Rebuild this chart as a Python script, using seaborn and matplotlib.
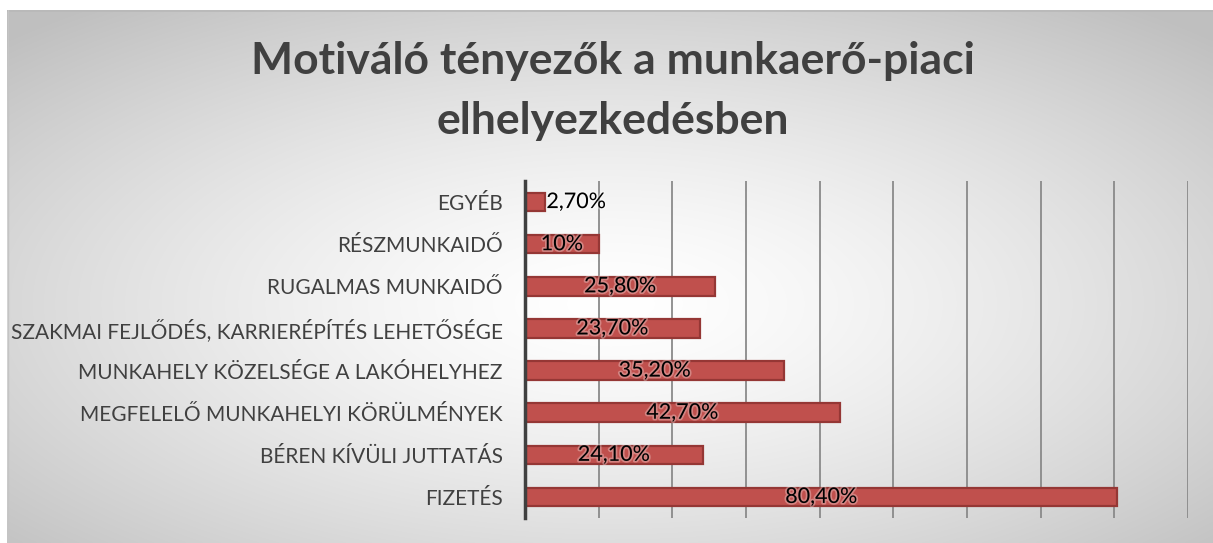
import numpy as np
import matplotlib
matplotlib.use("Agg")
import matplotlib.pyplot as plt
import matplotlib.patheffects as pe
import seaborn as sns

# Chart data (top to bottom)
categories = [
    "EGYÉB",
    "RÉSZMUNKAIDŐ",
    "RUGALMAS MUNKAIDŐ",
    "SZAKMAI FEJLŐDÉS, KARRIERÉPÍTÉS LEHETŐSÉGE",
    "MUNKAHELY KÖZELSÉGE A LAKÓHELYHEZ",
    "MEGFELELŐ MUNKAHELYI KÖRÜLMÉNYEK",
    "BÉREN KÍVÜLI JUTTATÁS",
    "FIZETÉS",
]
values = [2.7, 10.0, 25.8, 23.7, 35.2, 42.7, 24.1, 80.4]
value_labels = ["2,70%", "10%", "25,80%", "23,70%", "35,20%", "42,70%", "24,10%", "80,40%"]

title = "Motiváló tényezők a munkaerő-piaci\nelhelyezkedésben"

sns.set_style("white")
plt.rcParams["font.family"] = ["Lato", "DejaVu Sans"]

W, H = 1213, 543
fig = plt.figure(figsize=(W / 100, H / 100), dpi=100)
fig.patch.set_facecolor("white")

# radial gradient background panel
bg = fig.add_axes([7 / W, 0, 1 - 7 / W, 1 - 10 / H])
bg.set_axis_off()
ny, nx = 300, 600
yy, xx = np.mgrid[0:ny, 0:nx]
cx, cy = nx * 0.5, ny * 0.55
d = np.sqrt(((xx - cx) / (nx * 0.5)) ** 2 + ((yy - cy) / (ny * 0.5)) ** 2) / np.sqrt(2)
d = np.clip(d, 0, 1)
shade = 1.0 - 0.25 * d ** 1.4
img = np.dstack([shade, shade, shade])
bg.imshow(img, aspect="auto", extent=[0, 1, 0, 1], interpolation="bilinear")
bg.plot([0, 1], [0.999, 0.999], color="#b8b8b8", lw=1.2, transform=bg.transAxes)
bg.plot([0.0005, 0.0005], [0, 1], color="#c4c4c4", lw=1.0, transform=bg.transAxes)

fig.text(0.505, 0.832, title, ha="center", va="center", fontsize=32,
         fontweight="bold", color="#404040", linespacing=1.6)

ax = fig.add_axes([525 / W, 1 - 518 / H, (1188 - 525) / W, (518 - 181) / H])
ax.patch.set_alpha(0)

sns.barplot(x=values, y=categories, orient="h", color="#C0504D", width=0.44,
            edgecolor="#953735", linewidth=1.6, saturation=1, ax=ax, zorder=3)

ax.set_xlim(0, 90)
ax.set_xticks(np.arange(0, 91, 10))
ax.set_xticklabels([])
ax.tick_params(axis="x", length=0)
ax.tick_params(axis="y", length=0, pad=16, labelsize=15, labelcolor="#404040")
ax.grid(axis="x", color="#8a8a8a", lw=1.3, zorder=0)
ax.set_axisbelow(True)
ax.set_xlabel("")
ax.set_ylabel("")
for s in ["top", "right", "bottom"]:
    ax.spines[s].set_visible(False)
ax.spines["left"].set_color("#404040")
ax.spines["left"].set_linewidth(2.5)
ax.spines["left"].set_zorder(5)

glow = [pe.withStroke(linewidth=2.5, foreground="white", alpha=0.3)]
for i, (v, lab) in enumerate(zip(values, value_labels)):
    if v < 8:
        ax.text(v + 0.2, i, lab, ha="left", va="center", fontsize=15.5,
                color="black", path_effects=glow, zorder=6)
    else:
        ax.text(v / 2, i, lab, ha="center", va="center", fontsize=15.5,
                color="black", path_effects=glow, zorder=6)

fig.savefig("out.png", dpi=100)
